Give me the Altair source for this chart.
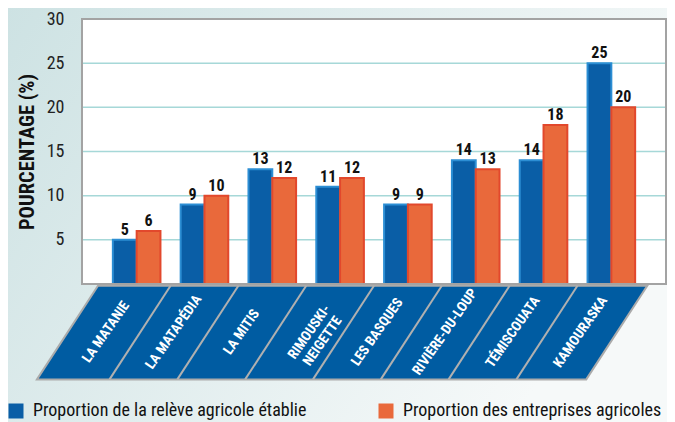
import altair as alt
import pandas as pd

# ---------------- data ----------------
categories = ["LA MATANIE", "LA MATAPÉDIA", "LA MITIS", "RIMOUSKI-NEIGETTE",
              "LES BASQUES", "RIVIÈRE-DU-LOUP", "TÉMISCOUATA", "KAMOURASKA"]
category_labels = ["LA MATANIE", "LA MATAPÉDIA", "LA MITIS", "RIMOUSKI-\nNEIGETTE",
                   "LES BASQUES", "RIVIÈRE-DU-LOUP", "TÉMISCOUATA", "KAMOURASKA"]
releve = [5, 9, 13, 11, 9, 14, 14, 25]
entreprises = [6, 10, 12, 12, 9, 13, 18, 20]
series = ["Proportion de la relève agricole établie", "Proportion des entreprises agricoles"]
y_ticks = [5, 10, 15, 20, 25, 30]
grid_values = [5, 10, 15, 20, 25]

# ---------------- layout / style ----------------
W, H = 584, 265
PAD_L, PAD_T = 74, 11
PAD_R, PAD_B = 1, 138
P_IN, P_OUT = 0.298, 0.455
EDGE = P_OUT - P_IN / 2          # offset of category boundaries in step units
SLANT = 0.9                       # band slant, in category steps
BAND_TOP, BAND_BOT = -0.2, -10.8  # band extent in value units (below zero)
BAND_L, BAND_R = -0.07, 8.03
FONT = "Liberation Sans Narrow, Roboto Condensed, DejaVu Sans Condensed, Arial Narrow, sans-serif"
BLUE, BLUE_S = "#0a5ea6", "#2c8ed4"
ORANGE, ORANGE_S = "#e9693b", "#e2482c"

n = len(categories)
rows = []
for c, a, b in zip(categories, releve, entreprises):
    rows.append({"cat": c, "serie": series[0], "value": a})
    rows.append({"cat": c, "serie": series[1], "value": b})
bars_df = pd.DataFrame(rows)

yscale = alt.Scale(domain=[0, 30], nice=False, zero=False)
xband = alt.Scale(domain=categories, paddingInner=P_IN, paddingOuter=P_OUT)
xoff = alt.Scale(domain=series, paddingInner=0, paddingOuter=0)
uscale = alt.Scale(domain=[-EDGE, n + EDGE], nice=False, zero=False)

one = pd.DataFrame({"k": [0]})

background = alt.Chart(one).mark_rect(
    fill={"gradient": "linear", "x1": 0, "y1": 0, "x2": 1, "y2": 0.4,
          "stops": [{"offset": 0, "color": "#cde2e3"}, {"offset": 1, "color": "#f6f9f9"}]}
).encode(x=alt.value(-PAD_L - 2), x2=alt.value(W + PAD_R + 4),
         y=alt.value(-PAD_T - 2), y2=alt.value(H + PAD_B + 4))

plot_bg = alt.Chart(one).mark_rect(fill="white").encode(
    x=alt.value(0), x2=alt.value(W), y=alt.value(0), y2=alt.value(H))

grid = alt.Chart(pd.DataFrame({"g": grid_values})).mark_rule(
    color="#a6d8d8", strokeWidth=1.5).encode(
    y=alt.Y("g:Q", scale=yscale,
            axis=alt.Axis(values=y_ticks, grid=False, ticks=False, tickSize=0, domain=False,
                          labelFont=FONT, labelFontSize=18, labelColor="#222222",
                          labelPadding=18, title="POURCENTAGE (%)", titleFont=FONT,
                          titleFontSize=20.5, titleFontWeight="bold", titleColor="#111111",
                          titlePadding=9, zindex=1)),
    x=alt.value(0), x2=alt.value(W))

bars = alt.Chart(bars_df).mark_bar(strokeWidth=2).encode(
    x=alt.X("cat:N", scale=xband, axis=None, sort=categories),
    xOffset=alt.XOffset("serie:N", scale=xoff, sort=series),
    y=alt.Y("value:Q", scale=yscale),
    color=alt.Color("serie:N", scale=alt.Scale(domain=series, range=[BLUE, ORANGE]),
                    legend=alt.Legend(title=None, orient="none", legendX=-PAD_L - 1, legendY=383,
                                      direction="horizontal", symbolType="square",
                                      symbolSize=225, symbolStrokeWidth=0, labelFont=FONT,
                                      labelFontSize=18, labelColor="#111111", labelOffset=8,
                                      columnPadding=70, padding=0, labelLimit=400, zindex=1)),
    stroke=alt.Stroke("serie:N", scale=alt.Scale(domain=series, range=[BLUE_S, ORANGE_S]),
                      legend=None),
)

bar_text = alt.Chart(bars_df).mark_text(
    baseline="bottom", dy=-2, font=FONT, fontSize=16, fontWeight="bold", color="#111111").encode(
    x=alt.X("cat:N", scale=xband, axis=None, sort=categories),
    xOffset=alt.XOffset("serie:N", scale=xoff, sort=series),
    y=alt.Y("value:Q", scale=yscale),
    text=alt.Text("value:Q"))

band_df = pd.DataFrame({
    "u": [BAND_L - SLANT, BAND_L, BAND_R - SLANT, BAND_R],
    "top": [BAND_BOT, BAND_TOP, BAND_TOP, BAND_TOP],
    "bot": [BAND_BOT, BAND_BOT, BAND_BOT, BAND_TOP],
})
band = alt.Chart(band_df).mark_area(
    fill="#005ca2", stroke="#ababab", strokeWidth=2, interpolate="linear").encode(
    x=alt.X("u:Q", scale=uscale, axis=None),
    y=alt.Y("top:Q", scale=yscale),
    y2="bot:Q")

sep_df = pd.DataFrame({"u1": [i for i in range(1, n)],
                       "u2": [i - SLANT for i in range(1, n)]})
seps = alt.Chart(sep_df).mark_rule(color="#b0b0b0", strokeWidth=2).encode(
    x=alt.X("u1:Q", scale=uscale, axis=None), x2="u2:Q",
    y=alt.value(H - BAND_TOP * H / 30), y2=alt.value(H - BAND_BOT * H / 30))

lab_df = pd.DataFrame({"u": [i + 0.05 for i in range(n)], "label": category_labels})
labels = alt.Chart(lab_df).mark_text(
    angle=305, font=FONT, fontSize=14, fontWeight="bold", color="white",
    lineBreak="\n", align="center", baseline="middle", lineHeight=16).encode(
    x=alt.X("u:Q", scale=uscale, axis=None),
    y=alt.value(H + 5.45 * H / 30),
    text="label:N")

frame = alt.Chart(one).mark_rect(fill=None, stroke="#a3a3a3", strokeWidth=2).encode(
    x=alt.value(0), x2=alt.value(W), y=alt.value(0), y2=alt.value(H))

chart = alt.layer(background, plot_bg, grid, bars, bar_text, band, seps, labels, frame).resolve_scale(
    x="independent").properties(
    width=W, height=H,
    autosize=alt.AutoSizeParams(type="none"),
    padding={"left": PAD_L, "top": PAD_T, "right": PAD_R, "bottom": PAD_B},
).configure_view(stroke=None)

chart.save("out.html", embed_options={"renderer": "svg", "actions": False})
